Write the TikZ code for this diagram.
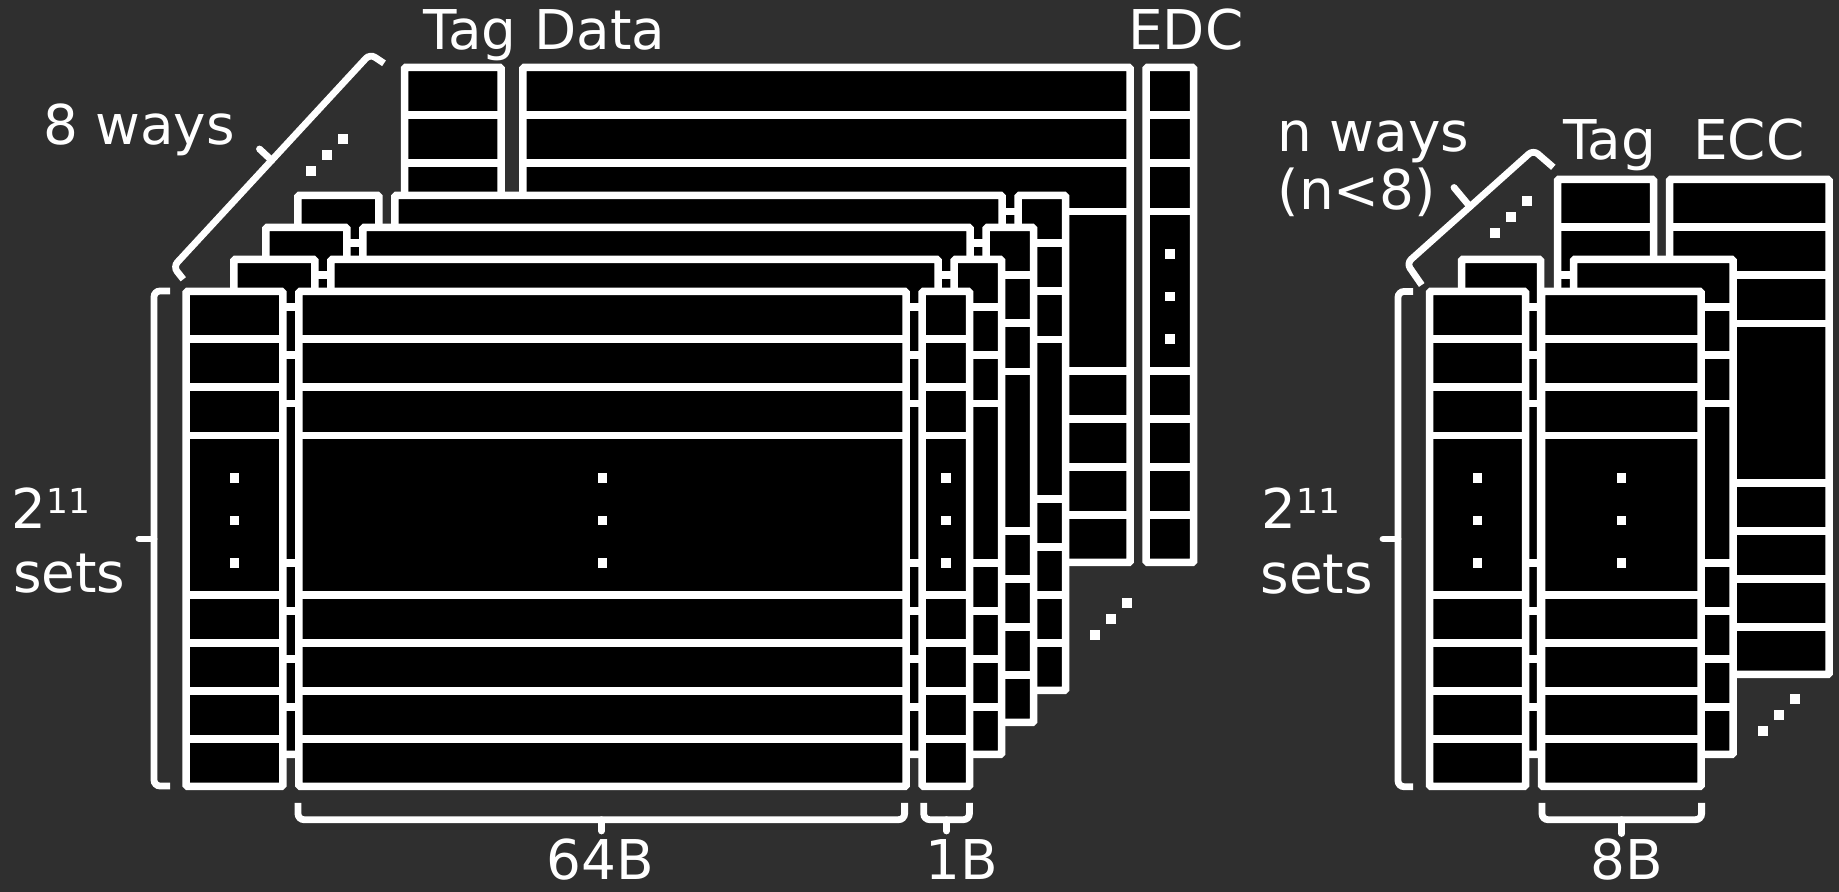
\documentclass[tikz,border=0pt]{standalone}
\usepackage{fontspec}
\setmainfont{DejaVu Sans}
\definecolor{bg}{HTML}{2F2F2F}
\tikzset{
  cell/.style={draw=white, fill=black, line width=0.75mm, rounded corners=0.15mm},
  sepline/.style={draw=white, line width=0.75mm},
  brc/.style={draw=white, line width=0.68mm, rounded corners=0.6mm},
  brtip/.style={draw=white, line width=0.68mm, line cap=round},
  lbl/.style={text=white, inner sep=0pt, font=\fontsize{15.6}{18}\selectfont},
  dotsq/.style={fill=white},
}
% one column of a way: left x, right x (layer-0 coordinates)
\newcommand\mycol[2]{%
  \draw[cell] (#1,291.3) rectangle (#2,786.5);
  \foreach \yy in {339,387.2,435.5,595,643,691,739}{\draw[sepline] (#1,\yy) -- (#2,\yy);}
}
\newcommand\mydots[1]{%
  \foreach \yy in {478,520.5,563}{\fill[dotsq] (#1-4.75,\yy-4.75) rectangle +(9.5,9.5);}
}
\newcommand\onedot[2]{\fill[dotsq] (#1-5,#2-5) rectangle +(10,10);}
\newcommand\supsc[1]{\raisebox{4.25pt}{\fontsize{9.8}{10}\selectfont #1}}
\begin{document}
\begin{tikzpicture}[x=0.1mm,y=-0.1mm]
\fill[bg] (0,0) rectangle (1839,892);
\useasboundingbox (0,0) rectangle (1839,892);

% ---------------- left block: 8 ways ----------------
\begin{scope}[shift={(224,-224)}]
  \mycol{180.5}{277.2}\mycol{298.8}{906.2}\mycol{922.2}{969.7}
  \mydots{946}
\end{scope}
\foreach \k in {3,2,1}{
  \begin{scope}[shift={(32*\k,-32*\k)}]
    \mycol{201.8}{282.9}\mycol{298.8}{906.2}\mycol{922.2}{969.7}
  \end{scope}
}
\mycol{186.1}{282.9}\mycol{298.8}{906.2}\mycol{922.2}{969.7}
\mydots{234.5}\mydots{602.5}\mydots{946}

% diagonal dots
\onedot{311}{171}\onedot{326.7}{155}\onedot{342.7}{139}
\onedot{1095}{635}\onedot{1111}{619.3}\onedot{1126.7}{603.3}

% braces
\draw[brc] (170,291) -- (154,291) -- (154,786) -- (170,786);
\draw[brtip] (154,539) -- (139,539);
\draw[brc] (298,803) -- (298,819.7) -- (904.6,819.7) -- (904.6,803);
\draw[brtip] (601.5,819.7) -- (601.5,831);
\draw[brc] (923.7,803) -- (923.7,819.7) -- (969.4,819.7) -- (969.4,803);
\draw[brtip] (946.5,819.7) -- (946.5,831);
\draw[brc] (183.3,279.3) -- (173.3,266.7) -- (370,54) -- (384,63.3);
\draw[brtip] (271.7,160.4) -- (259.5,149);

% labels
\node[lbl, anchor=base] (tagdata) at (544.5,49.6) {Tag Data};
\node[lbl, anchor=base] (edc) at (1185.9,49.6) {EDC};
\node[lbl, anchor=base west] (eightways) at (42.5,144.5) {8 ways};
\node[lbl, anchor=base west] (lpow) at (11,528.3) {2\supsc{11}};
\node[lbl, anchor=base west] (lsets) at (12.5,592.7) {sets};
\node[lbl, anchor=base] (sixtyfour) at (600.4,880) {64B};
\node[lbl, anchor=base] (oneb) at (961.6,880) {1B};

% ---------------- right block: n ways ----------------
\begin{scope}[shift={(128,-112)}]
  \mycol{1429.5}{1525.5}\mycol{1541.5}{1701.2}
\end{scope}
\begin{scope}[shift={(32,-32)}]
  \mycol{1429.5}{1508.5}\mycol{1541.5}{1701.2}
\end{scope}
\mycol{1429.5}{1525.5}\mycol{1541.5}{1701.2}
\mydots{1477.5}\mydots{1621.5}

\onedot{1495}{233.3}\onedot{1510.7}{217.3}\onedot{1526.7}{201.3}
\onedot{1762.7}{730.7}\onedot{1778.9}{715}\onedot{1794.6}{699.3}

\draw[brc] (1413,291.5) -- (1398,291.5) -- (1398,786.7) -- (1413,786.7);
\draw[brtip] (1398,539) -- (1383,539);
\draw[brc] (1542,803) -- (1542,819.7) -- (1701.6,819.7) -- (1701.6,803);
\draw[brtip] (1621.8,819.7) -- (1621.8,833.5);
\draw[brc] (1421.7,285) -- (1406.7,263.3) -- (1533.3,150) -- (1553.3,167.3);
\draw[brtip] (1470,206.7) -- (1454,187.5);

\node[lbl, anchor=base west] (nways) at (1277,151.5) {n ways};
\node[lbl, anchor=base west] (nlt) at (1277,210) {(n<8)};
\node[lbl, anchor=base] (rtag) at (1609.7,160) {Tag};
\node[lbl, anchor=base] (ecc) at (1748.7,160) {ECC};
\node[lbl, anchor=base west] (rpow) at (1260.6,528.3) {2\supsc{11}};
\node[lbl, anchor=base west] (rsets) at (1260,593.3) {sets};
\node[lbl, anchor=base] (eightb) at (1626.5,880) {8B};
\end{tikzpicture}
\end{document}
